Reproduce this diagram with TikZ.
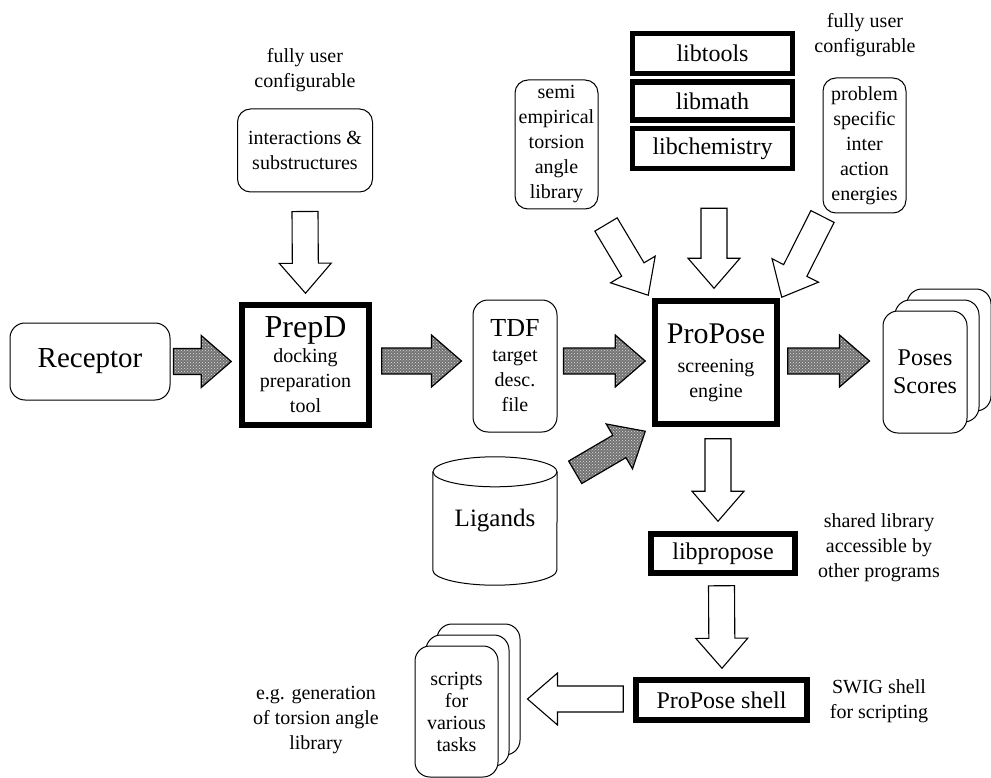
\documentclass[tikz,border=0pt]{standalone}
\usepackage{fontspec}
\setmainfont{Liberation Serif}
\usetikzlibrary{calc, patterns, positioning}

\newcommand\setfs[2]{\fontsize{#1}{#2}\selectfont}

\tikzset{
  rbox/.style    = {draw, line width=1pt, rounded corners=13pt, align=center,
                    inner sep=2pt},
  libbox/.style  = {draw, line width=5.5pt, align=center, inner sep=2pt,
                    font=\setfs{24}{28}},
  card/.style    = {rbox, fill=white, rounded corners=15pt},
  note/.style    = {align=center, inner sep=1pt},
  hatched/.style = {draw, line width=1.2pt, preaction={fill=black!55},
                    pattern=crosshatch dots, pattern color=black!12},
  hollow/.style  = {draw, line width=1.1pt, fill=white},
}

% fat block arrow from tail coordinate #2 to tip coordinate #3
\newcommand\blockarrow[3]{%
  \coordinate (ba-base) at ($(#3)!30pt!(#2)$);
  \draw[#1] ($(#2)!13pt!90:(#3)$)
    -- ($(ba-base)!13pt!90:(#3)$) -- ($(ba-base)!26pt!90:(#3)$)
    -- (#3)
    -- ($(ba-base)!26pt!-90:(#3)$) -- ($(ba-base)!13pt!-90:(#3)$)
    -- ($(#2)!13pt!-90:(#3)$) -- cycle;
}

\begin{document}
\begin{tikzpicture}[x=1pt, y=-1pt, font=\setfs{20}{25}]
  \useasboundingbox (0,0) rectangle (991,778);

  %% ---------------- main line ----------------
  \node[rbox, minimum width=160, minimum height=77, rounded corners=15pt]
       (receptor) at (90,361.5) {\setfs{29}{32}Receptor};
  \node[libbox, minimum width=127, minimum height=120, font=\setfs{20}{25}]
       (prepd) at (305.5,365)
       {{\setfs{32}{34}PrepD}\\ docking\\ preparation\\ tool};
  \node[rbox, minimum width=84, minimum height=132, rounded corners=15pt]
       (tdf) at (515,366)
       {{\setfs{26}{30}TDF}\\ target\\ desc.\\ file};
  \node[libbox, minimum width=122, minimum height=123, font=\setfs{20}{25}]
       (propose) at (716,362.5)
       {{\setfs{30}{32}ProPose}\\[4pt] screening\\ engine};

  % stack of result cards
  \coordinate (poses-c) at (925,372);
  \foreach \k in {2,1} {
    \node[card, minimum width=84, minimum height=122]
         (poses\k) at ($(poses-c)+({12*\k},{-11*\k})$) {};
  }
  \node[card, minimum width=84, minimum height=122, font=\setfs{24}{28}]
       (poses) at (poses-c) {Poses\\ Scores};

  %% ---------------- inputs ----------------
  \node[note] (cfgleft) at (305,70) {fully user\\ configurable};
  \node[rbox, minimum width=135, minimum height=83] (inter) at (305,150.5)
       {interactions \&\\ substructures};

  \node[rbox, minimum width=83, minimum height=129] (torsion) at (556.5,144.5)
       {semi\\ empirical\\ torsion\\ angle\\ library};

  \node[libbox, minimum width=160, minimum height=40] (libtools)
       at (712.5,53.5) {libtools};
  \node[libbox, minimum width=160, minimum height=38, below=3pt of libtools]
       (libmath) {libmath};
  \node[libbox, minimum width=160, minimum height=40, below=3pt of libmath]
       (libchem) {libchemistry};

  \node[note] (cfgright) at (865,35) {fully user\\ configurable};
  \node[rbox, minimum width=83, minimum height=135] (energies) at (864.5,145.5)
       {problem\\ specific\\ inter\\ action\\ energies};

  % ligand database
  \node[minimum width=124, minimum height=128, font=\setfs{25}{28}]
       (ligands) at (495,521) {\raisebox{-6pt}{Ligands}};
  \draw[line width=1pt]
       ([yshift=-15pt]ligands.north west) -- ([yshift=15pt]ligands.south west)
       arc[start angle=180, end angle=360, x radius=62pt, y radius=15pt]
       -- ([yshift=-15pt]ligands.north east);
  \draw[line width=1pt] ([yshift=-15pt]ligands.north)
       ellipse[x radius=62pt, y radius=15pt];

  %% ---------------- library chain ----------------
  \node[libbox, minimum width=144, minimum height=39] (libpropose)
       at (723,553.5) {libpropose};
  \node[note] (sharednote) at (879,548)
       {shared library\\ accessible by\\ other programs};
  \node[libbox, minimum width=171, minimum height=40] (shell)
       at (721.5,700) {ProPose shell};
  \node[note] (swignote) at (879,701) {SWIG shell\\ for scripting};

  \coordinate (scripts-c) at (456.5,711.5);
  \foreach \k in {2,1} {
    \node[card, minimum width=83, minimum height=131]
         (scripts\k) at ($(scripts-c)+({11*\k},{-11*\k})$) {};
  }
  \node[card, minimum width=83, minimum height=131, font=\setfs{20}{22}]
       (scripts) at (scripts-c) {scripts\\ for\\ various\\ tasks};
  \node[note] (egnote) at (316,720)
       {e.g. generation\\ of torsion angle\\ library};

  %% ---------------- hatched data flow ----------------
  \coordinate (rec-out)  at ($(receptor.east)+(3,0)$);
  \coordinate (prep-in)  at ($(prepd.west)+(-8,-3.5)$);
  \coordinate (prep-out) at ($(prepd.east)+(10,-4)$);
  \coordinate (tdf-in)   at ($(tdf.west)+(-11,-5)$);
  \coordinate (tdf-out)  at ($(tdf.east)+(6,-5)$);
  \coordinate (pro-in)   at ($(propose.west)+(-7,-1.5)$);
  \coordinate (pro-out)  at ($(propose.east)+(8,-1.5)$);
  \coordinate (poses-in) at ($(poses.west)+(-13,-11)$);
  \coordinate (lig-out)  at ($(ligands.north east)+(18,15.5)$);
  \coordinate (pro-lig)  at ($(propose.south west)+(-7,4.5)$);

  \blockarrow{hatched}{rec-out}{prep-in}
  \blockarrow{hatched}{prep-out}{tdf-in}
  \blockarrow{hatched}{tdf-out}{pro-in}
  \blockarrow{hatched}{pro-out}{poses-in}
  \blockarrow{hatched}{lig-out}{pro-lig}

  %% ---------------- hollow arrows ----------------
  \coordinate (inter-out) at ($(inter.south)+(0,19)$);
  \coordinate (prep-top)  at ($(prepd.north)+(0,-9)$);
  \coordinate (chem-out)  at ($(libchem.south)+(1.5,37)$);
  \coordinate (pro-top)   at ($(propose.north)+(-2,-10)$);
  \coordinate (tors-out)  at ($(torsion.south)+(49.5,15)$);
  \coordinate (pro-nw)    at ($(propose.north west)+(-4,-3)$);
  \coordinate (ener-out)  at ($(energies.south west)+(0,3)$);
  \coordinate (pro-ne)    at ($(propose.north east)+(2,-1)$);
  \coordinate (pro-down)  at ($(propose.south)+(2,12)$);
  \coordinate (lprop-top) at ($(libpropose.north)+(-5,-10)$);
  \coordinate (lprop-down) at ($(libpropose.south)+(-1.5,10)$);
  \coordinate (shell-top) at ($(shell.north)+(0.5,-9)$);
  \coordinate (shell-out) at ($(shell.west)+(-10,-1)$);
  \coordinate (scripts-in) at ($(scripts.east)+(29,-12.5)$);

  \blockarrow{hollow}{inter-out}{prep-top}
  \blockarrow{hollow}{chem-out}{pro-top}
  \blockarrow{hollow}{tors-out}{pro-nw}
  \blockarrow{hollow}{ener-out}{pro-ne}
  \blockarrow{hollow}{pro-down}{lprop-top}
  \blockarrow{hollow}{lprop-down}{shell-top}
  \blockarrow{hollow}{shell-out}{scripts-in}

\end{tikzpicture}
\end{document}
